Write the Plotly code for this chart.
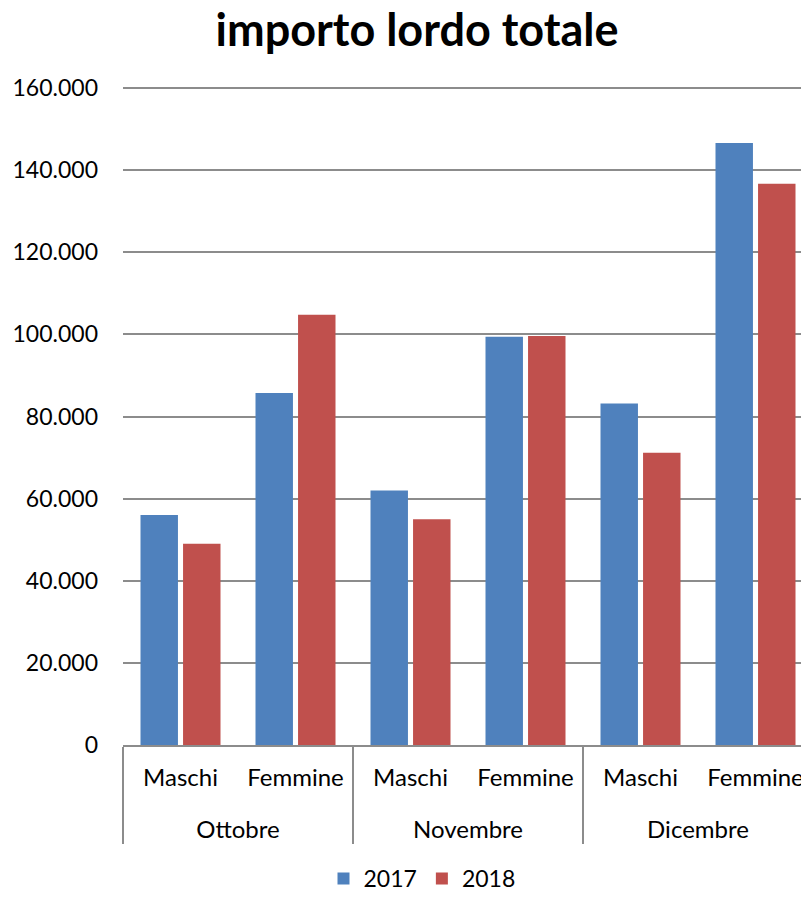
import plotly.graph_objects as go

months = ["Ottobre", "Ottobre", "Novembre", "Novembre", "Dicembre", "Dicembre"]
genders = ["Maschi", "Femmine", "Maschi", "Femmine", "Maschi", "Femmine"]
series_names = ["2017", "2018"]
values_2017 = [56000, 85700, 62000, 99400, 83200, 146600]
values_2018 = [49000, 104800, 55000, 99600, 71200, 136700]
y_ticks = [0, 20000, 40000, 60000, 80000, 100000, 120000, 140000, 160000]

FONT = "Lato"
colors = ["#4F81BD", "#C0504D"]

month_labels = ["<br>" + m for m in months]

# the page body has an 8px margin, so the figure is sized to fill the window from (8, 8)
W, H = 801, 892

fig = go.Figure()
for name, vals, col in zip(series_names, [values_2017, values_2018], colors):
    fig.add_trace(go.Bar(x=[month_labels, genders], y=vals, name=name,
                         marker=dict(color=col, line=dict(width=0))))

fig.update_layout(
    width=W, height=H,
    margin=dict(l=115, r=0, t=78, b=155),
    paper_bgcolor="white", plot_bgcolor="white",
    separators=",.",
    barmode="group", bargap=0.26, bargroupgap=0.12,
    font=dict(family=FONT, size=23, color="black"),
    title=dict(text="<b>importo lordo totale</b>", x=409/W, xref="container", xanchor="center",
               y=1 - 22/H, yanchor="middle", font=dict(family=FONT, size=45, color="black")),
    showlegend=True,
    legend=dict(orientation="h", x=414/W, xref="container", xanchor="center", y=-6/H,
                yref="container", yanchor="bottom", font=dict(family=FONT, size=23)),
)
fig.update_yaxes(range=[0, 160500], tickvals=y_ticks, tickformat=",d", showgrid=True,
                 gridcolor="#8C8C8C", gridwidth=1.5, zeroline=False, showline=False,
                 ticks="", ticklabelstandoff=24, automargin=False,
                 tickfont=dict(family=FONT, size=23))
fig.update_xaxes(type="multicategory", range=[-0.5, 5.5 - 4/115], showline=True, linecolor="#8C8C8C",
                 linewidth=1.5, showdividers=True, dividercolor="#8C8C8C", dividerwidth=1.5,
                 ticks="", ticklabelstandoff=10, automargin=False,
                 tickfont=dict(family=FONT, size=24))

fig.write_html("out.html")
